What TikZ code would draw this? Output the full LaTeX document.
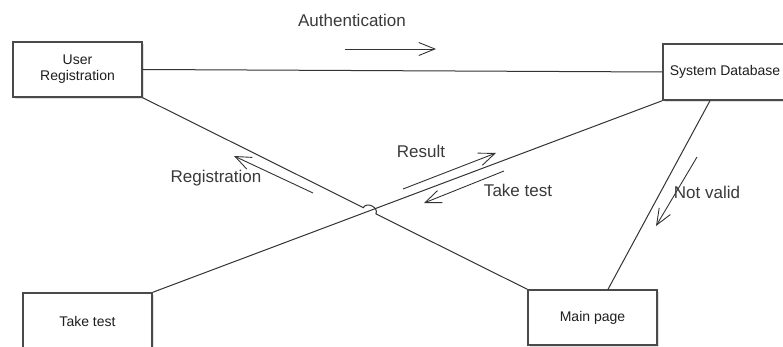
\documentclass[tikz,border=0pt]{standalone}
\usepackage{fontspec}
\setmainfont{Liberation Sans}
\usetikzlibrary{arrows.meta,calc,shadows}
\definecolor{linec}{HTML}{333333}
\definecolor{boxc}{HTML}{4A4A4A}
\definecolor{txtc}{HTML}{3A3A3A}
\definecolor{boxtxt}{HTML}{1E1E1E}
\begin{document}
\begin{tikzpicture}[x=1pt,y=-1pt,
 box/.style={draw=boxc, line width=1.4pt, fill=white, minimum width=129pt, minimum height=55pt, inner sep=0pt,
   font=\fontsize{14}{16}\selectfont, text=boxtxt, align=center,
   drop shadow={shadow xshift=1.8pt,shadow yshift=-1.8pt,opacity=0.25}},
 link/.style={draw=linec, line width=1pt},
 flow/.style={draw=linec, line width=0.9pt, -{Straight Barb[length=16pt,width=13pt,line width=0.9pt]}},
 lbl/.style={font=\fontsize{17}{19}\selectfont, text=txtc, inner sep=0pt}]
\useasboundingbox (0,0) rectangle (783,347);
\fill[white] (0,0) rectangle (783,347);
% boxes
\node[box] (ureg) at (77.5,69.5) {User\\Registration};
\node[box, minimum width=124pt, minimum height=56pt] (sysdb) at (725,72) {System Database};
\node[box, minimum height=56pt] (take) at (87.5,321) {Take test};
\node[box] (main) at (592.5,317.5) {Main page};
% links
\draw[link] (ureg.east) -- (sysdb.west);
\draw[link] (take.north east) -- (sysdb.south west);
\draw[link] ([xshift=-15pt]sysdb.south) -- ([xshift=15.5pt]main.north);
\coordinate (X) at (intersection of ureg.south east--main.north west and take.north east--sysdb.south west);
\coordinate (P1) at ($(X)!7pt!(ureg.south east)$);
\coordinate (P2) at ($(X)!7pt!(main.north west)$);
\draw[link] (ureg.south east) -- (P1) to[bend left=90, looseness=1.3] (P2) -- (main.north west);
% flow arrows
\coordinate (a1) at (345,49);  \coordinate (a2) at (436,49);
\coordinate (r1) at (313,193); \coordinate (r2) at (234,156);
\coordinate (s1) at (403,189); \coordinate (s2) at (496,153);
\coordinate (t1) at (504,171); \coordinate (t2) at (424,203);
\coordinate (n1) at (697,157); \coordinate (n2) at (656,226);
\draw[flow] (a1) -- (a2);
\draw[flow] (r1) -- (r2);
\draw[flow] (s1) -- (s2);
\draw[flow] (t1) -- (t2);
\draw[flow] (n1) -- (n2);
% labels
\node[lbl] (lauth) at (352,20) {Authentication};
\node[lbl] (lreg) at (216,178) {Registration};
\node[lbl] (lres) at (421,151) {Result};
\node[lbl] (ltake) at (518,190) {Take test};
\node[lbl] (lnv) at (707,192) {Not valid};
\end{tikzpicture}
\end{document}
